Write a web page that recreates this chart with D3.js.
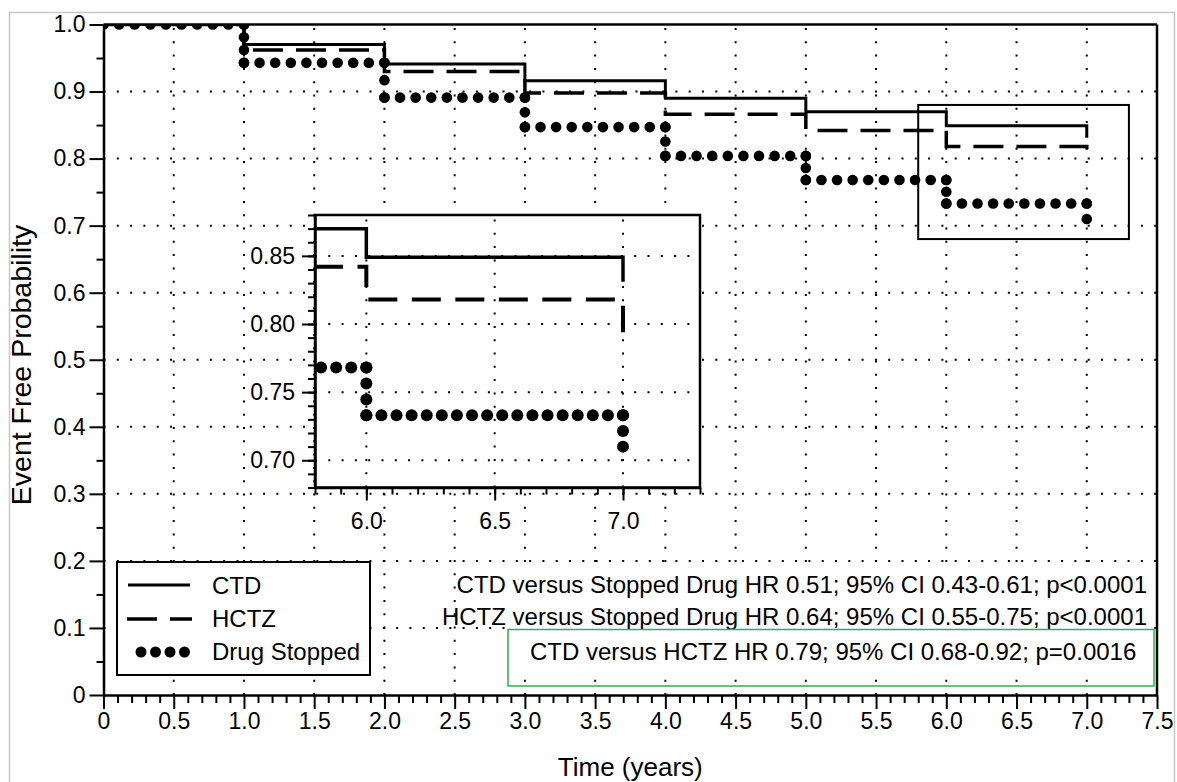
<!DOCTYPE html>
<html><head><meta charset="utf-8">
<script src="https://cdn.jsdelivr.net/npm/d3@7"></script>
<style>
body{margin:0;background:#fff;}
svg{display:block;}
text{font-family:"Liberation Sans",Arial,sans-serif;fill:#000;}
</style>
</head><body>
<script>
// ---------- data ----------
const times = [0, 1, 2, 3, 4, 5, 6, 7];
const ctdValues = [1.0, 0.970, 0.941, 0.916, 0.890, 0.870, 0.849, 0.831];
const hctzValues = [1.0, 0.962, 0.930, 0.898, 0.866, 0.842, 0.818, 0.794];
const stoppedValues = [1.0, 0.943, 0.891, 0.847, 0.804, 0.768, 0.733, 0.710];
const seriesNames = ["CTD", "HCTZ", "Drug Stopped"];
const xTickLabels = ["0","0.5","1.0","1.5","2.0","2.5","3.0","3.5","4.0","4.5","5.0","5.5","6.0","6.5","7.0","7.5"];
const yTickLabels = ["0","0.1","0.2","0.3","0.4","0.5","0.6","0.7","0.8","0.9","1.0"];
const insetXTickLabels = ["6.0","6.5","7.0"];
const insetYTickLabels = ["0.70","0.75","0.80","0.85"];
const insetXDomain = [5.8, 7.3];
const insetYDomain = [0.68, 0.88];
const annotationLines = [
  "CTD versus Stopped Drug HR 0.51; 95% CI 0.43-0.61; p<0.0001",
  "HCTZ versus Stopped Drug HR 0.64; 95% CI 0.55-0.75; p<0.0001",
  "CTD versus HCTZ HR 0.79; 95% CI 0.68-0.92; p=0.0016"
];
const xTitle = "Time (years)";
const yTitle = "Event Free Probability";

// ---------- setup ----------
const W = 1177, H = 782;
const FONT = '"Liberation Sans", Arial, sans-serif';
const svg = d3.select("body").append("svg").attr("width", W).attr("height", H);

svg.append("rect").attr("x", 9.5).attr("y", 12.5).attr("width", 1165).attr("height", H)
  .attr("fill", "none").attr("stroke", "#c8c8c8").attr("stroke-width", 1.5);

const x = d3.scaleLinear().domain([0, 7.5]).range([103.5, 1157]);
const y = d3.scaleLinear().domain([0, 1]).range([695, 24.5]);
const xVals = xTickLabels.map(Number);
const yVals = yTickLabels.map(Number);

// ---------- helpers ----------
function segments(ts, vs, xs, ys) {
  const segs = [];
  for (let i = 0; i < ts.length - 1; i++) {
    segs.push([xs(ts[i]), ys(vs[i]), xs(ts[i + 1]), ys(vs[i])]);
    segs.push([xs(ts[i + 1]), ys(vs[i]), xs(ts[i + 1]), ys(vs[i + 1])]);
  }
  return segs;
}
// length along the step path from its start to the corner reached after the drop at index idx
function stepLength(ts, vs, xs, ys, idx) {
  let L = 0;
  segments(ts, vs, xs, ys).slice(0, idx * 2).forEach(([x1, y1, x2, y2]) => { L += Math.hypot(x2 - x1, y2 - y1); });
  return L;
}
function dotPoints(ts, vs, xs, ys, spacing) {
  const pts = [];
  segments(ts, vs, xs, ys).forEach(([x1, y1, x2, y2]) => {
    const len = Math.hypot(x2 - x1, y2 - y1);
    if (len < 0.5) return;
    const n = Math.max(1, Math.round(len / spacing));
    for (let k = 0; k <= n; k++) pts.push([x1 + (x2 - x1) * k / n, y1 + (y2 - y1) * k / n]);
  });
  return pts;
}
function drawCurves(g, xs, ys, opt) {
  const line = d3.line().x(d => xs(d[0])).y(d => ys(d[1])).curve(d3.curveStepAfter);
  g.append("path").datum(times.map((t, i) => [t, ctdValues[i]])).attr("d", line)
    .attr("fill", "none").attr("stroke", "#000").attr("stroke-width", opt.solidW);
  const P = opt.dash[0] + opt.dash[1];
  const L = stepLength(times, hctzValues, xs, ys, opt.dashIdx) + opt.dashExtra;
  g.append("path").datum(times.map((t, i) => [t, hctzValues[i]])).attr("d", line)
    .attr("fill", "none").attr("stroke", "#000").attr("stroke-width", opt.dashW)
    .attr("stroke-dasharray", opt.dash.join(","))
    .attr("stroke-dashoffset", ((P - (L % P)) % P));
  g.selectAll("circle.dot").data(dotPoints(times, stoppedValues, xs, ys, opt.spacing))
    .enter().append("circle").attr("class", "dot")
    .attr("cx", d => d[0]).attr("cy", d => d[1]).attr("r", opt.r).attr("fill", "#000");
}
function dottedLine(g, x1, y1, x2, y2) {
  g.append("line").attr("x1", x1).attr("y1", y1).attr("x2", x2).attr("y2", y2)
    .attr("stroke", "#000").attr("stroke-width", 2).attr("stroke-dasharray", "2,11.3");
}
function styleAxis(g, fs) {
  g.attr("font-family", null).attr("font-size", null);
  g.select(".domain").attr("stroke-width", 2.5);
  g.selectAll(".tick line").attr("stroke-width", 2);
  g.selectAll(".tick text").attr("font-size", fs).attr("font-family", FONT).attr("fill", "#000");
}

// ---------- main grid ----------
const grid = svg.append("g");
xVals.filter(v => v > 0 && v < 7.5).forEach(v => dottedLine(grid, x(v), y(0), x(v), y(1)));
yVals.filter(v => v > 0 && v < 1).forEach(v => dottedLine(grid, x(0), y(v), x(7.5), y(v)));

// zoom rectangle
svg.append("rect")
  .attr("x", x(insetXDomain[0])).attr("y", y(insetYDomain[1]))
  .attr("width", x(insetXDomain[1]) - x(insetXDomain[0]))
  .attr("height", y(insetYDomain[0]) - y(insetYDomain[1]))
  .attr("fill", "none").attr("stroke", "#000").attr("stroke-width", 2);

// ---------- main curves ----------
svg.append("clipPath").attr("id", "mainClip").append("rect")
  .attr("x", x(0)).attr("y", y(1)).attr("width", x(7.5) - x(0)).attr("height", y(0) - y(1));
const curves = svg.append("g").attr("clip-path", "url(#mainClip)");
drawCurves(curves, x, y, { solidW: 3, dashW: 3.5, dash: [30, 13], dashIdx: 1, dashExtra: 9, r: 5.3, spacing: 15 });

// ---------- main axes ----------
const xAxisG = svg.append("g").attr("transform", `translate(0,${y(0)})`)
  .call(d3.axisBottom(x).tickValues(xVals).tickFormat((d, i) => xTickLabels[i])
    .tickSize(14).tickSizeOuter(0).tickPadding(4));
styleAxis(xAxisG, 23);
const xMinor = svg.append("g").attr("transform", `translate(0,${y(0)})`)
  .call(d3.axisBottom(x).tickValues(d3.range(0, 76).map(i => i / 10).filter(v => !xVals.some(m => Math.abs(m - v) < 1e-6)))
    .tickSize(8).tickFormat(""));
xMinor.select(".domain").remove(); xMinor.selectAll(".tick line").attr("stroke-width", 2);

const yAxisG = svg.append("g").attr("transform", `translate(${x(0)},0)`)
  .call(d3.axisLeft(y).tickValues(yVals).tickFormat((d, i) => yTickLabels[i])
    .tickSize(14).tickSizeOuter(0).tickPadding(4));
styleAxis(yAxisG, 23);
const yMinor = svg.append("g").attr("transform", `translate(${x(0)},0)`)
  .call(d3.axisLeft(y).tickValues(d3.range(0, 10).map(i => i / 10 + 0.05)).tickSize(7).tickFormat(""));
yMinor.select(".domain").remove(); yMinor.selectAll(".tick line").attr("stroke-width", 2);

// top & right border
svg.append("line").attr("x1", x(0)).attr("x2", x(7.5)).attr("y1", y(1)).attr("y2", y(1))
  .attr("stroke", "#000").attr("stroke-width", 2.5);
svg.append("line").attr("x1", x(7.5)).attr("x2", x(7.5)).attr("y1", y(1)).attr("y2", y(0))
  .attr("stroke", "#000").attr("stroke-width", 2.5);

// axis titles
svg.append("text").attr("x", (x(0) + x(7.5)) / 2).attr("y", 776).attr("text-anchor", "middle")
  .attr("font-size", 26).text(xTitle);
svg.append("text").attr("transform", "translate(31,365) rotate(-90)").attr("text-anchor", "middle")
  .attr("font-size", 28.5).text(yTitle);

// ---------- inset ----------
const ix = d3.scaleLinear().domain(insetXDomain).range([315, 700]);
const iy = d3.scaleLinear().domain(insetYDomain).range([487.5, 215]);
const ixVals = insetXTickLabels.map(Number);
const iyVals = insetYTickLabels.map(Number);
const inset = svg.append("g");
inset.append("rect").attr("x", ix.range()[0]).attr("y", iy.range()[1])
  .attr("width", ix.range()[1] - ix.range()[0]).attr("height", iy.range()[0] - iy.range()[1])
  .attr("fill", "#fff");
const igrid = inset.append("g");
ixVals.forEach(v => dottedLine(igrid, ix(v), iy.range()[0], ix(v), iy.range()[1]));
iyVals.forEach(v => dottedLine(igrid, ix.range()[0], iy(v), ix.range()[1], iy(v)));
svg.append("clipPath").attr("id", "insetClip").append("rect")
  .attr("x", ix.range()[0]).attr("y", iy.range()[1])
  .attr("width", ix.range()[1] - ix.range()[0]).attr("height", iy.range()[0] - iy.range()[1]);
const icurves = inset.append("g").attr("clip-path", "url(#insetClip)");
drawCurves(icurves, ix, iy, { solidW: 3.5, dashW: 4, dash: [29, 14.5], dashIdx: 6, dashExtra: 2, r: 6, spacing: 15.3 });
inset.append("rect").attr("x", ix.range()[0]).attr("y", iy.range()[1])
  .attr("width", ix.range()[1] - ix.range()[0]).attr("height", iy.range()[0] - iy.range()[1])
  .attr("fill", "none").attr("stroke", "#000").attr("stroke-width", 2.5);
const ixAxis = inset.append("g").attr("transform", `translate(0,${iy.range()[0]})`)
  .call(d3.axisBottom(ix).tickValues(ixVals).tickFormat((d, i) => insetXTickLabels[i])
    .tickSize(13).tickSizeOuter(0).tickPadding(12));
styleAxis(ixAxis, 23);
const ixMinor = inset.append("g").attr("transform", `translate(0,${iy.range()[0]})`)
  .call(d3.axisBottom(ix).tickValues(d3.range(58, 74).map(i => i / 10)).tickSize(7).tickFormat(""));
ixMinor.select(".domain").remove(); ixMinor.selectAll(".tick line").attr("stroke-width", 2);
const iyAxis = inset.append("g").attr("transform", `translate(${ix.range()[0]},0)`)
  .call(d3.axisLeft(iy).tickValues(iyVals).tickFormat((d, i) => insetYTickLabels[i])
    .tickSize(13).tickSizeOuter(0).tickPadding(7));
styleAxis(iyAxis, 23);
const iyMinor = inset.append("g").attr("transform", `translate(${ix.range()[0]},0)`)
  .call(d3.axisLeft(iy).tickValues(d3.range(68, 89).map(i => i / 100)).tickSize(7).tickFormat(""));
iyMinor.select(".domain").remove(); iyMinor.selectAll(".tick line").attr("stroke-width", 2);

// ---------- legend ----------
const lg = svg.append("g");
lg.append("rect").attr("x", 117).attr("y", 562).attr("width", 253).attr("height", 113)
  .attr("fill", "#fff").attr("stroke", "#000").attr("stroke-width", 2);
lg.append("line").attr("x1", 128).attr("x2", 190).attr("y1", 585).attr("y2", 585)
  .attr("stroke", "#000").attr("stroke-width", 3);
lg.append("line").attr("x1", 127).attr("x2", 192).attr("y1", 619).attr("y2", 619)
  .attr("stroke", "#000").attr("stroke-width", 3.5).attr("stroke-dasharray", "30,13");
[141, 155.5, 170, 184.5].forEach(cx => lg.append("circle").attr("cx", cx).attr("cy", 652).attr("r", 5.5).attr("fill", "#000"));
seriesNames.forEach((s, i) => lg.append("text").attr("x", 212).attr("y", 594 + i * 33).attr("font-size", 24).text(s));

// ---------- annotations ----------
svg.append("rect").attr("x", 460).attr("y", 566).attr("width", 692).attr("height", 61).attr("fill", "#fff");
svg.append("rect").attr("x", 508).attr("y", 627).attr("width", 646).attr("height", 49).attr("fill", "#fff");
svg.append("text").attr("x", 1147).attr("y", 593).attr("text-anchor", "end").attr("font-size", 24).text(annotationLines[0]);
svg.append("text").attr("x", 1147).attr("y", 625).attr("text-anchor", "end").attr("font-size", 24).text(annotationLines[1]);
svg.append("text").attr("x", 530).attr("y", 660).attr("font-size", 24).text(annotationLines[2]);
svg.append("rect").attr("x", 508).attr("y", 629.5).attr("width", 646).attr("height", 56.5)
  .attr("fill", "none").attr("stroke", "#2bb24c").attr("stroke-width", 1.5);
</script>
</body></html>
